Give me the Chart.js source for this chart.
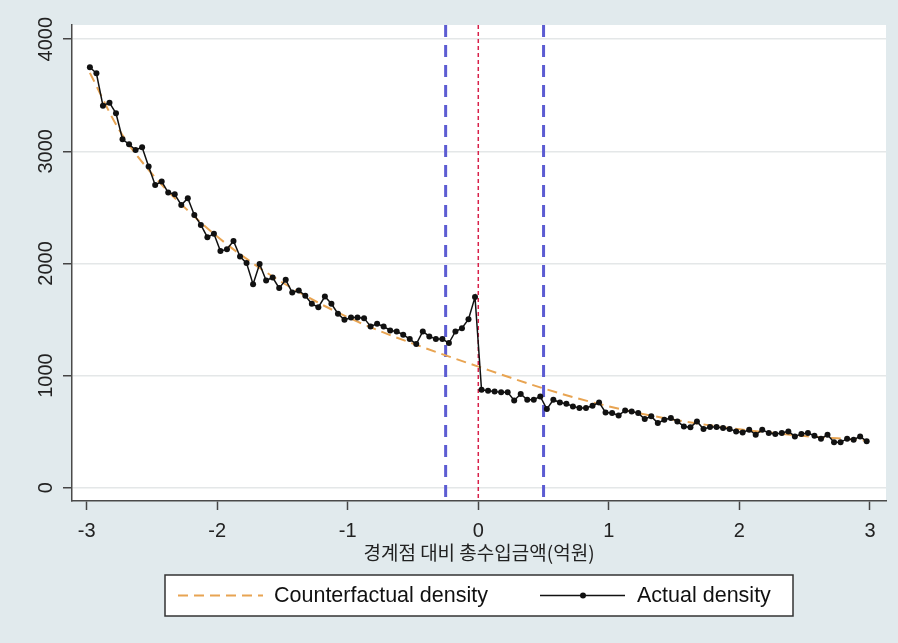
<!DOCTYPE html>
<html>
<head>
<meta charset="utf-8">
<script src="https://cdn.jsdelivr.net/npm/chart.js@4"></script>
<style>
  html, body { margin: 0; padding: 0; background: #e1eaed; }
  canvas { display: block; }
</style>
</head>
<body>
<canvas id="myChart" width="898" height="643"></canvas>
<script>
// bins of 0.05 from -3 to 3, points at bin centres
var binStart = -3;
var binWidth = 0.05;

var actualDensity = [
    3750, 3696, 3407, 3434, 3339, 3108, 3063, 3012, 3036, 2864,
    2700, 2730, 2632, 2617, 2522, 2582, 2433, 2344, 2234, 2264,
    2110, 2127, 2201, 2062, 2003, 1815, 1996, 1848, 1874, 1780,
    1854, 1741, 1759, 1712, 1640, 1610, 1705, 1640, 1551, 1497,
    1518, 1518, 1512, 1438, 1462, 1438, 1402, 1393, 1364, 1325,
    1281, 1393, 1349, 1325, 1325, 1290, 1393, 1423, 1503, 1700,
    873, 864, 858, 850, 850, 778, 835, 784, 784, 814,
    701, 784, 760, 749, 725, 710, 710, 731, 760, 671,
    665, 644, 689, 680, 665, 612, 636, 576, 606, 621,
    591, 546, 538, 591, 523, 541, 541, 532, 523, 502,
    493, 517, 472, 517, 487, 478, 487, 502, 457, 478,
    487, 463, 437, 472, 404, 404, 437, 428, 457, 413
];

var cfX = [-2.975, -2.75, -2.5, -2.25, -2, -1.75, -1.5, -1.25, -1, -0.75, -0.5, -0.25, 0,
           0.25, 0.5, 0.75, 1, 1.25, 1.5, 1.75, 2, 2.25, 2.5, 2.75, 2.975];
var cfY = [3700, 3190, 2800, 2500, 2240, 2020, 1830, 1665, 1520, 1395, 1285, 1180, 1080,
           980, 885, 800, 725, 660, 605, 560, 520, 490, 460, 440, 420];

var windowLines = [-0.25, 0.5];
var cutoffLine  = 0;

var xTicks = [-3, -2, -1, 0, 1, 2, 3];
var yTicks = [0, 1000, 2000, 3000, 4000];

var xTitle = '경계점 대비 총수입금액(억원)';
var legendLabels = ['Counterfactual density', 'Actual density'];

var colActual = '#111111';
var colCf     = '#e8a452';
var colWindow = '#5c5cd2';
var colCutoff = '#d8204a';
var fontLatin = '"Liberation Sans", Arial, sans-serif';

var actualPts = actualDensity.map(function(v, i) {
    return { x: binStart + binWidth * (i + 0.5), y: v };
});
var cfPts = cfX.map(function(x, i) { return { x: x, y: cfY[i] }; });

var plotBg = {
    id: 'plotBg',
    beforeDraw: function(chart) {
        var a = chart.chartArea, ctx = chart.ctx;
        ctx.save();
        ctx.fillStyle = '#ffffff';
        ctx.fillRect(a.left, a.top, a.right - a.left, a.bottom - a.top);
        ctx.restore();
    }
};

var refLines = {
    id: 'refLines',
    beforeDatasetsDraw: function(chart) {
        var a = chart.chartArea, ctx = chart.ctx, xs = chart.scales.x;
        ctx.save();
        ctx.lineWidth = 3;
        ctx.strokeStyle = colWindow;
        ctx.setLineDash([12, 8]);
        windowLines.forEach(function(v) {
            var px = xs.getPixelForValue(v);
            ctx.beginPath();
            ctx.moveTo(px, a.top);
            ctx.lineTo(px, a.bottom);
            ctx.stroke();
        });
        ctx.lineWidth = 1.5;
        ctx.strokeStyle = colCutoff;
        ctx.setLineDash([4, 3]);
        var p0 = xs.getPixelForValue(cutoffLine);
        ctx.beginPath();
        ctx.moveTo(p0, a.top);
        ctx.lineTo(p0, a.bottom);
        ctx.stroke();
        ctx.restore();
    }
};

var yLabels = {
    id: 'yLabels',
    afterDraw: function(chart) {
        var ctx = chart.ctx, ys = chart.scales.y;
        ctx.save();
        ctx.fillStyle = '#222222';
        ctx.font = '20px ' + fontLatin;
        ctx.textAlign = 'center';
        ctx.textBaseline = 'middle';
        yTicks.forEach(function(v) {
            ctx.save();
            ctx.translate(46, ys.getPixelForValue(v));
            ctx.rotate(-Math.PI / 2);
            ctx.fillText(String(v), 0, 0);
            ctx.restore();
        });
        ctx.restore();
    }
};

var legendBox = {
    id: 'legendBox',
    afterDraw: function(chart) {
        var ctx = chart.ctx;
        var bx = 165, by = 575, bw = 628, bh = 41, my = by + bh / 2;
        ctx.save();
        ctx.fillStyle = '#ffffff';
        ctx.fillRect(bx, by, bw, bh);
        ctx.strokeStyle = '#333333';
        ctx.lineWidth = 1.5;
        ctx.strokeRect(bx, by, bw, bh);

        ctx.strokeStyle = colCf;
        ctx.lineWidth = 2;
        ctx.setLineDash([10, 6]);
        ctx.beginPath();
        ctx.moveTo(178, my);
        ctx.lineTo(263, my);
        ctx.stroke();

        ctx.setLineDash([]);
        ctx.strokeStyle = colActual;
        ctx.lineWidth = 1.5;
        ctx.beginPath();
        ctx.moveTo(540, my);
        ctx.lineTo(625, my);
        ctx.stroke();
        ctx.fillStyle = colActual;
        ctx.beginPath();
        ctx.arc(583, my, 3, 0, Math.PI * 2);
        ctx.fill();

        ctx.fillStyle = '#111111';
        ctx.font = '21.5px ' + fontLatin;
        ctx.textAlign = 'left';
        ctx.textBaseline = 'middle';
        ctx.fillText(legendLabels[0], 274, my + 1);
        ctx.fillText(legendLabels[1], 637, my + 1);
        ctx.restore();
    }
};

var canvas  = document.getElementById('myChart');
var context = canvas.getContext('2d');

var myChart = new Chart(context, {
    type: 'scatter',
    data: {
        datasets: [{
            label: legendLabels[1],
            data: actualPts,
            showLine: true,
            borderColor: colActual,
            backgroundColor: colActual,
            borderWidth: 1.5,
            pointRadius: 3,
            pointBorderWidth: 0,
            order: 0
        }, {
            label: legendLabels[0],
            data: cfPts,
            showLine: true,
            borderColor: colCf,
            borderWidth: 2,
            borderDash: [10, 6],
            pointRadius: 0,
            cubicInterpolationMode: 'monotone',
            order: 1
        }]
    },
    options: {
        responsive: false,
        animation: false,
        layout: { padding: { top: 25, right: 12, bottom: 0, left: 0 } },
        plugins: {
            legend: { display: false },
            tooltip: { enabled: false }
        },
        scales: {
            x: {
                type: 'linear',
                min: -3.112,
                max: 3.123,
                afterBuildTicks: function(scale) {
                    scale.ticks = xTicks.map(function(v) { return { value: v }; });
                },
                afterFit: function(scale) { scale.height = 142; },
                grid: {
                    drawOnChartArea: false,
                    drawTicks: true,
                    tickLength: 9,
                    tickColor: '#444444',
                    tickWidth: 1.5
                },
                border: { color: '#4a4a4a', width: 1.5 },
                ticks: {
                    padding: 9,
                    color: '#222222',
                    font: { family: fontLatin, size: 20 },
                    maxRotation: 0
                },
                title: {
                    display: true,
                    text: xTitle,
                    color: '#222222',
                    font: { family: '"Noto Sans CJK KR", sans-serif', size: 19 },
                    padding: { top: 2, bottom: 79 }
                }
            },
            y: {
                type: 'linear',
                min: -119,
                max: 4127,
                afterBuildTicks: function(scale) {
                    scale.ticks = yTicks.map(function(v) { return { value: v }; });
                },
                afterFit: function(scale) { scale.width = 72; },
                grid: {
                    color: '#e4e7e8',
                    lineWidth: 1.5,
                    drawTicks: true,
                    tickLength: 9,
                    tickColor: '#444444',
                    tickWidth: 1.5
                },
                border: { color: '#4a4a4a', width: 1.5 },
                ticks: { display: false }
            }
        }
    },
    plugins: [plotBg, refLines, yLabels, legendBox]
});
</script>
</body>
</html>
